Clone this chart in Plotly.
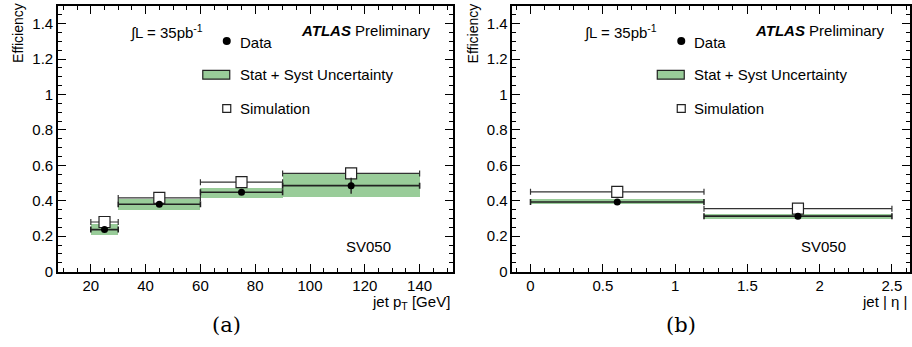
import plotly.graph_objects as go
from plotly.subplots import make_subplots

# ---- jet pT binning (GeV) ----
pt_lo = [20, 30, 60, 90]
pt_hi = [30, 60, 90, 140]
pt_data = [0.237, 0.380, 0.448, 0.485]
pt_data_err = [0.010, 0.010, 0.015, 0.045]
pt_band_lo = [0.207, 0.346, 0.418, 0.424]
pt_band_hi = [0.267, 0.410, 0.474, 0.554]
pt_sim = [0.280, 0.416, 0.505, 0.554]

# ---- jet |eta| binning ----
eta_lo = [0.0, 1.2]
eta_hi = [1.2, 2.5]
eta_data = [0.393, 0.313]
eta_data_err = [0.008, 0.008]
eta_band_lo = [0.382, 0.298]
eta_band_hi = [0.411, 0.326]
eta_sim = [0.450, 0.355]

W, H = 912, 347
FONT = "Liberation Sans"
GREEN = "#99cc99"

# frame positions (pixels)
frames = [(58, 453), (513, 911)]
y_top, y_bot = 6, 278


def fx(p):
    return p / W


def fy(p):
    return 1 - p / H


fig = make_subplots(rows=1, cols=2, horizontal_spacing=0.0)


def add_panel(col, lo, hi, data, derr, blo, bhi, sim):
    centers = [(a + b) / 2 for a, b in zip(lo, hi)]
    widths = [b - a for a, b in zip(lo, hi)]
    halfw = [w / 2 for w in widths]
    fig.add_trace(go.Bar(
        x=centers, y=[h - l for l, h in zip(blo, bhi)], base=blo, width=widths,
        marker=dict(color=GREEN, line=dict(width=0)), showlegend=False,
        hoverinfo="skip"), row=1, col=col)
    fig.add_trace(go.Scatter(
        x=centers, y=sim, mode="markers",
        marker=dict(symbol="square", size=11, color="white",
                    line=dict(color="#222222", width=1.2)),
        error_x=dict(type="data", array=halfw, color="#333333",
                     thickness=1.2, width=3),
        showlegend=False), row=1, col=col)
    fig.add_trace(go.Scatter(
        x=centers, y=data, mode="markers",
        marker=dict(symbol="circle", size=7, color="black"),
        error_x=dict(type="data", array=halfw, color="#222222",
                     thickness=1.6, width=3),
        error_y=dict(type="data", array=derr, color="#222222",
                     thickness=1.4, width=0),
        showlegend=False), row=1, col=col)


add_panel(1, pt_lo, pt_hi, pt_data, pt_data_err, pt_band_lo, pt_band_hi, pt_sim)
add_panel(2, eta_lo, eta_hi, eta_data, eta_data_err, eta_band_lo, eta_band_hi, eta_sim)

axis_common = dict(
    showline=True, linecolor="black", linewidth=1.5, mirror="allticks",
    ticks="inside", ticklen=8, tickwidth=1.2, tickcolor="black",
    showgrid=False, zeroline=False,
    tickfont=dict(family=FONT, size=15, color="black"),
)
minor_common = dict(ticks="inside", ticklen=4, tickwidth=1.2, tickcolor="black", showgrid=False)

fig.update_xaxes(axis_common, row=1, col=1)
fig.update_xaxes(range=[8, 152], tick0=0, dtick=20,
                 minor=dict(minor_common, dtick=5),
                 domain=[fx(frames[0][0]), fx(frames[0][1])], row=1, col=1)
fig.update_xaxes(axis_common, row=1, col=2)
fig.update_xaxes(range=[-0.125, 2.625], tick0=0, dtick=0.5,
                 minor=dict(minor_common, dtick=0.1),
                 domain=[fx(frames[1][0]), fx(frames[1][1])], row=1, col=2)
for c in (1, 2):
    fig.update_yaxes(axis_common, row=1, col=c)
    fig.update_yaxes(range=[0, 1.5], tick0=0, dtick=0.2,
                     minor=dict(minor_common, dtick=0.05),
                     domain=[fy(y_bot), fy(y_top)], row=1, col=c)

annotations = []
shapes = []
xtitles = ["jet p<sub>T</sub> [GeV]", "jet | η |"]
captions = ["(a)", "(b)"]
for i, (x0, x1) in enumerate(frames):
    txt = dict(family=FONT, size=15, color="black")
    # y-axis title, top aligned
    annotations.append(dict(text="Efficiency", textangle=-90, x=fx(x0 - 40),
                            y=fy(1), xref="paper", yref="paper",
                            xanchor="center", yanchor="top", showarrow=False,
                            font=dict(family=FONT, size=14, color="black")))
    # x-axis title, right aligned under the tick labels
    annotations.append(dict(text=xtitles[i], x=fx(x1 - 1), y=fy(298),
                            xref="paper", yref="paper", xanchor="right",
                            yanchor="top", showarrow=False, font=txt))
    # caption under panel
    annotations.append(dict(text=captions[i], x=fx(x0 + 169), y=fy(333),
                            xref="paper", yref="paper", xanchor="center",
                            yanchor="middle", showarrow=False,
                            font=dict(family="DejaVu Serif", size=21, color="black")))
    # luminosity
    annotations.append(dict(text="∫L = 35pb<sup>-1</sup>", x=fx(x0 + 70), y=fy(33),
                            xref="paper", yref="paper", xanchor="left",
                            yanchor="middle", showarrow=False, font=txt))
    # experiment label
    annotations.append(dict(text="<b><i>ATLAS</i></b> Preliminary", x=fx(x0 + 375),
                            y=fy(31), xref="paper", yref="paper", xanchor="right",
                            yanchor="middle", showarrow=False, font=txt))
    # legend entries
    lx = x0 + 169
    annotations.append(dict(text="Data", x=fx(lx + 11), y=fy(43), xref="paper",
                            yref="paper", xanchor="left", yanchor="middle",
                            showarrow=False, font=txt))
    annotations.append(dict(text="Stat + Syst Uncertainty", x=fx(lx + 11), y=fy(76),
                            xref="paper", yref="paper", xanchor="left",
                            yanchor="middle", showarrow=False, font=txt))
    annotations.append(dict(text="Simulation", x=fx(lx + 11), y=fy(111),
                            xref="paper", yref="paper", xanchor="left",
                            yanchor="middle", showarrow=False, font=txt))
    annotations.append(dict(text="SV050", x=fx(x0 + 311), y=fy(252), xref="paper",
                            yref="paper", xanchor="center", yanchor="middle",
                            showarrow=False, font=txt))
    shapes.append(dict(type="circle", xref="paper", yref="paper",
                       x0=fx(lx - 4), x1=fx(lx + 4), y0=fy(46), y1=fy(38),
                       fillcolor="black", line=dict(color="black", width=0)))
    shapes.append(dict(type="rect", xref="paper", yref="paper",
                       x0=fx(lx - 24), x1=fx(lx + 3), y0=fy(81), y1=fy(72),
                       fillcolor=GREEN, line=dict(color="#222222", width=1.2)))
    shapes.append(dict(type="rect", xref="paper", yref="paper",
                       x0=fx(lx - 4), x1=fx(lx + 4), y0=fy(115), y1=fy(107),
                       fillcolor="white", line=dict(color="#222222", width=1.2)))

fig.update_layout(
    width=W, height=H, margin=dict(l=0, r=0, t=0, b=0),
    paper_bgcolor="white", plot_bgcolor="white",
    barmode="overlay", bargap=0, showlegend=False,
    annotations=annotations, shapes=shapes,
    font=dict(family=FONT, size=15, color="black"),
)

fig.write_html("out.html")
